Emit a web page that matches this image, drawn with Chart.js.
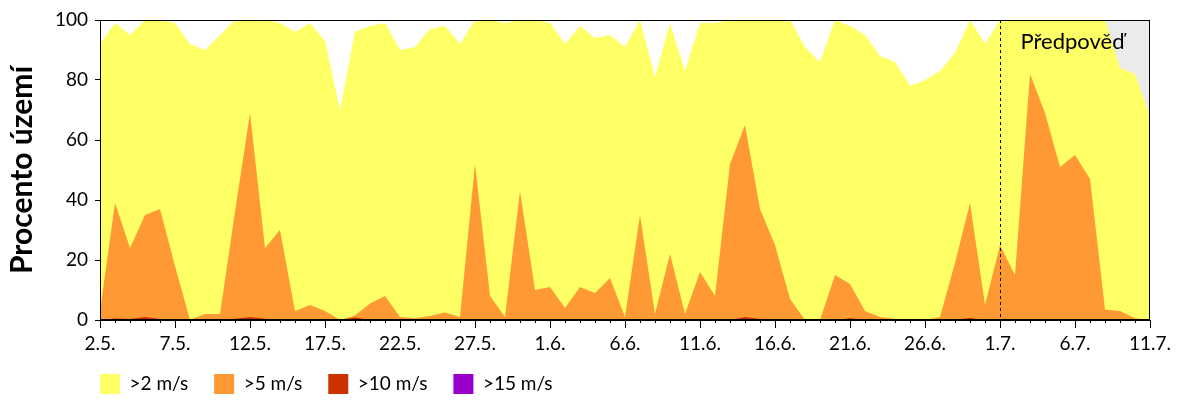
<!DOCTYPE html>
<html><head><meta charset="utf-8">
<script src="https://cdn.jsdelivr.net/npm/chart.js@4"></script>
<style>html,body{margin:0;padding:0;background:#fff;}#wrap{width:1200px;height:400px;}</style>
</head><body><div id="wrap"><canvas id="c" width="1200" height="400"></canvas></div>
<script>
const categories = ['2.5.','3.5.','4.5.','5.5.','6.5.','7.5.','8.5.','9.5.','10.5.','11.5.','12.5.','13.5.','14.5.','15.5.','16.5.','17.5.','18.5.','19.5.','20.5.','21.5.','22.5.','23.5.','24.5.','25.5.','26.5.','27.5.','28.5.','29.5.','30.5.','31.5.',
'1.6.','2.6.','3.6.','4.6.','5.6.','6.6.','7.6.','8.6.','9.6.','10.6.','11.6.','12.6.','13.6.','14.6.','15.6.','16.6.','17.6.','18.6.','19.6.','20.6.','21.6.','22.6.','23.6.','24.6.','25.6.','26.6.','27.6.','28.6.','29.6.','30.6.',
'1.7.','2.7.','3.7.','4.7.','5.7.','6.7.','7.7.','8.7.','9.7.','10.7.','11.7.'];
const tickLabels = ['2.5.','7.5.','12.5.','17.5.','22.5.','27.5.','1.6.','6.6.','11.6.','16.6.','21.6.','26.6.','1.7.','6.7.','11.7.'];
const yTicks = [0,20,40,60,80,100];
const gt2 = [92,99,95,100,100,99,92,90,95,100, 100,100,99,96,99,93,70,96,98,99, 90,91,97,98,92,100,100,99,100,100, 99,92,98,94,95,91,100,81,99,83, 99,99,100,100,100,100,100,91,86,100, 98,95,88,86,78,80,83,89,100,92, 100,100,100,100,100,100,100,100,84,82, 68];
const gt5 = [3,39,24,35,37,18,0,2,2,36, 69,24,30,3,5,3,0,1.5,5.5,8, 1,0.6,1.3,2.5,1,52,8,1,43,10, 11,4,11,9,14,1,35,2,22,2, 16,8,52,65,37,25,7,0,0,15, 12,3,1,0.3,0,0,1,19,39,5, 25,15,82,69,51,55,47,3.5,3,0.6, 0];
const gt10 = [0,0.5,0.3,1,0.3,0,0,0,0,0.4, 1,0.4,0,0,0,0,0,0.8,0,0, 0,0,0,0,0,0,0,0,0,0, 0,0,0,0,0,0,0,0,0,0, 0,0,0,1,0.3,0,0,0,0,0, 0.6,0,0,0,0,0,0,0,0.7,0, 0,0,0,0,0,0,0,0,0,0, 0];
const gt15 = [0,0,0,0,0,0,0,0,0,0, 0,0,0,0,0,0,0,0,0,0, 0,0,0,0,0,0,0,0,0,0, 0,0,0,0,0,0,0,0,0,0, 0,0,0,0,0,0,0,0,0,0, 0,0,0,0,0,0,0,0,0,0, 0,0,0,0,0,0,0,0,0,0, 0];
const seriesNames = ['>2 m/s','>5 m/s','>10 m/s','>15 m/s'];
const seriesColors = ['#ffff66','#ff9933','#cc3300','#9900cc'];
const yTitle = 'Procento území';
const forecastStart = '1.7.';
const forecastLabel = 'Předpověď';

const FONT = 'Lato';
Chart.defaults.font.family = FONT;
Chart.defaults.color = '#000';

const series = [gt2, gt5, gt10, gt15];
const datasets = series.map((d, i) => ({
  label: seriesNames[i], data: d,
  backgroundColor: seriesColors[i], borderColor: seriesColors[i],
  borderWidth: 0, pointRadius: 0, pointHoverRadius: 0, fill: 'origin', tension: 0,
  order: series.length - i
}));

const decor = {
  id: 'decor',
  beforeLayout(chart) {
    const lg = chart.legend;
    if (lg && !lg._patched) {
      const f = lg.fit.bind(lg);
      lg.fit = function () { f(); this.height = 0; };
      lg._patched = true;
    }
  },
  afterLayout(chart) {
    const lg = chart.legend;
    if (lg) { lg.left = 100 - lg.options.labels.padding; lg.top = 374 - lg.options.labels.padding; }
  },
  beforeDatasetsDraw(chart) {
    const {ctx, chartArea: a, scales: {x}} = chart;
    const x0 = x.getPixelForValue(categories.indexOf(forecastStart));
    ctx.save(); ctx.fillStyle = '#ebebeb';
    ctx.fillRect(x0, a.top, a.right - x0, a.bottom - a.top);
    ctx.restore();
  },
  afterDatasetsDraw(chart) {
    const {ctx, chartArea: a, scales: {x}} = chart;
    const x0 = Math.round(x.getPixelForValue(categories.indexOf(forecastStart))) + 0.5;
    ctx.save();
    ctx.strokeStyle = '#000'; ctx.lineWidth = 1; ctx.setLineDash([3, 3]);
    ctx.beginPath(); ctx.moveTo(x0, a.top); ctx.lineTo(x0, a.bottom); ctx.stroke();
    ctx.setLineDash([]);
    ctx.fillStyle = '#000'; ctx.font = '22px ' + FONT; ctx.textBaseline = 'middle'; ctx.textAlign = 'left';
    ctx.fillText(forecastLabel, x0 + 20, a.top + 22);
    ctx.beginPath();
    categories.forEach((c, i) => {
      if (tickLabels.includes(c)) return;
      const px = Math.round(x.getPixelForValue(i)) + 0.5;
      ctx.moveTo(px, a.bottom); ctx.lineTo(px, a.bottom + 3);
    });
    ctx.stroke();
    ctx.strokeRect(Math.round(a.left) + 0.5, Math.round(a.top) + 0.5, Math.round(a.right - a.left) - 1, Math.round(a.bottom - a.top) - 1);
    ctx.restore();
  }
};

new Chart(document.getElementById('c'), {
  type: 'line',
  data: { labels: categories, datasets },
  options: {
    responsive: false, animation: false, devicePixelRatio: 1,
    layout: { padding: { left: 0, top: 20, right: 50, bottom: 0 } },
    plugins: {
      tooltip: { enabled: false },
      legend: {
        display: true, position: 'bottom', align: 'start',
        labels: { boxWidth: 20, boxHeight: 20, padding: 26, color: '#000', font: { size: 19 },
          sort: (a, b) => a.datasetIndex - b.datasetIndex }
      }
    },
    scales: {
      x: {
        type: 'category',
        grid: { display: true, drawOnChartArea: false, drawTicks: true, tickLength: 8, color: '#000',
          tickColor: (ctx) => tickLabels.includes(categories[ctx.index]) ? '#000' : 'rgba(0,0,0,0)' },
        border: { display: true, color: '#000', width: 1 },
        ticks: { autoSkip: false, maxRotation: 0, minRotation: 0, padding: 4, font: { size: 19 }, color: '#000',
          callback: (v, i) => tickLabels.includes(categories[i]) ? categories[i] : '' },
        afterFit(scale) { scale.height = 80; }
      },
      y: {
        min: 0, max: 100,
        afterBuildTicks(scale) { scale.ticks = yTicks.map(v => ({ value: v })); },
        grid: { display: true, drawOnChartArea: false, drawTicks: true, tickLength: 5, color: '#000', tickColor: '#000' },
        border: { display: true, color: '#000', width: 1 },
        ticks: { padding: 7, font: { size: 19 }, color: '#000' },
        title: { display: true, text: yTitle, color: '#000', font: { size: 30, weight: 'bold' }, padding: { top: 4, bottom: 0 } },
        afterFit(scale) { scale.width = 100; }
      }
    }
  },
  plugins: [decor]
});
</script></body></html>
